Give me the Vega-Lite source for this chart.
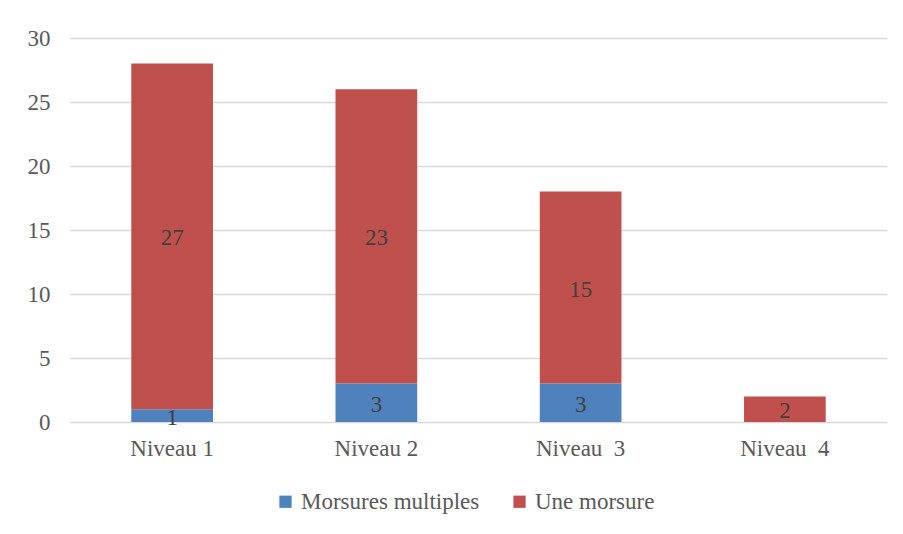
{
  "$schema": "https://vega.github.io/schema/vega-lite/v6.json",
  "autosize": {"type": "none"},
  "width": 817,
  "height": 384,
  "padding": {"left": 70, "top": 38, "right": 16, "bottom": 112},
  "background": "white",
  "data": {"values": [
    {"niveau": "Niveau 1", "serie": "Morsures multiples", "ord": 1, "n": 1},
    {"niveau": "Niveau 1", "serie": "Une morsure", "ord": 2, "n": 27},
    {"niveau": "Niveau 2", "serie": "Morsures multiples", "ord": 1, "n": 3},
    {"niveau": "Niveau 2", "serie": "Une morsure", "ord": 2, "n": 23},
    {"niveau": "Niveau\u00a0 3", "serie": "Morsures multiples", "ord": 1, "n": 3},
    {"niveau": "Niveau\u00a0 3", "serie": "Une morsure", "ord": 2, "n": 15},
    {"niveau": "Niveau\u00a0 4", "serie": "Une morsure", "ord": 2, "n": 2}
  ]},
  "transform": [
    {"stack": "n", "groupby": ["niveau"], "sort": [{"field": "ord", "order": "ascending"}], "as": ["y0", "y1"]},
    {"calculate": "(datum.y0 + datum.y1) / 2", "as": "ymid"}
  ],
  "encoding": {
    "x": {
      "field": "niveau", "type": "nominal", "sort": null,
      "scale": {"paddingInner": 0.6, "paddingOuter": 0.3},
      "axis": {"title": null, "labelAngle": 0, "domain": false, "ticks": false, "labelPadding": 15, "labelFontSize": 23, "labelFont": "Liberation Serif", "labelColor": "#595959"}
    }
  },
  "layer": [
    {
      "mark": {"type": "bar"},
      "encoding": {
        "y": {"field": "y0", "type": "quantitative", "scale": {"domain": [0, 30]},
          "axis": {"title": null, "values": [0,5,10,15,20,25,30], "domain": false, "ticks": false, "labelPadding": 20, "labelFontSize": 23, "labelFont": "Liberation Serif", "labelColor": "#595959", "gridColor": "#d9d9d9", "gridWidth": 1.5}},
        "y2": {"field": "y1"},
        "color": {"field": "serie", "type": "nominal",
          "scale": {"domain": ["Morsures multiples", "Une morsure"], "range": ["#4F81BD", "#C0504D"]},
          "legend": {"title": null, "orient": "none", "legendX": 204, "legendY": 452, "direction": "horizontal", "symbolType": "square", "symbolSize": 150, "symbolStrokeWidth": 0, "labelFontSize": 23, "labelFont": "Liberation Serif", "labelColor": "#595959", "labelLimit": 0, "columnPadding": 28}}
      }
    },
    {
      "mark": {"type": "text", "font": "Liberation Serif", "fontSize": 23, "color": "#404040", "baseline": "middle", "dy": 2},
      "encoding": {
        "y": {"field": "ymid", "type": "quantitative", "scale": {"domain": [0, 30]},
          "axis": {"title": null, "values": [0,5,10,15,20,25,30], "domain": false, "ticks": false, "labelPadding": 20, "labelFontSize": 23, "labelFont": "Liberation Serif", "labelColor": "#595959", "gridColor": "#d9d9d9", "gridWidth": 1.5}},
        "text": {"field": "n", "type": "quantitative"}
      }
    }
  ],
  "config": {"view": {"stroke": null}}
}
